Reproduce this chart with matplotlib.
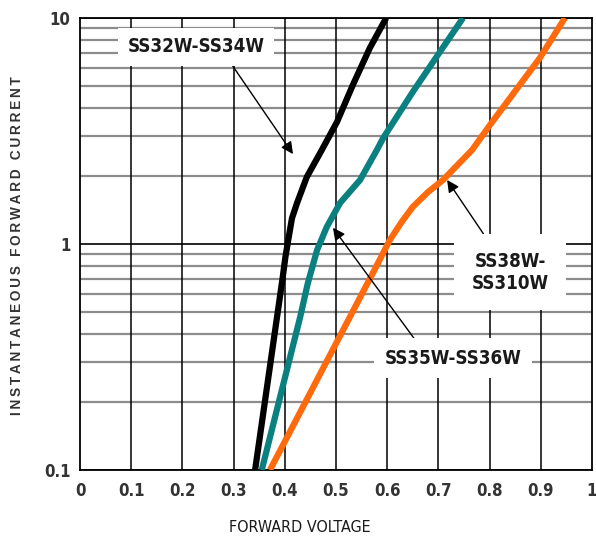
import numpy as np
import matplotlib.pyplot as plt
from matplotlib.ticker import FixedLocator, NullFormatter

plt.rcParams['font.family'] = ['DejaVu Sans']
plt.rcParams['font.stretch'] = 'condensed'

# forward voltage (V) vs instantaneous forward current (A)
v_ss32 = [0.342, 0.396, 0.401, 0.407, 0.414, 0.424, 0.443, 0.470, 0.502, 0.533, 0.566, 0.598]
i_ss32 = [0.1, 0.714, 0.87, 1.05, 1.30, 1.52, 1.98, 2.55, 3.47, 5.06, 7.36, 10.0]

v_ss35 = [0.355, 0.430, 0.445, 0.463, 0.482, 0.508, 0.547, 0.580, 0.592, 0.650, 0.703, 0.748]
i_ss35 = [0.1, 0.475, 0.671, 0.940, 1.19, 1.52, 1.92, 2.61, 2.94, 4.71, 7.08, 10.0]

v_ss38 = [0.371, 0.572, 0.605, 0.628, 0.650, 0.680, 0.709, 0.766, 0.801, 0.898, 0.947]
i_ss38 = [0.1, 0.744, 1.04, 1.25, 1.46, 1.70, 1.92, 2.61, 3.37, 6.65, 10.0]

x_ticks = [0, 0.1, 0.2, 0.3, 0.4, 0.5, 0.6, 0.7, 0.8, 0.9, 1]
x_labels = ['0', '0.1', '0.2', '0.3', '0.4', '0.5', '0.6', '0.7', '0.8', '0.9', '1']
y_ticks = [0.1, 1, 10]
y_labels = ['0.1', '1', '10']

fig = plt.figure(figsize=(5.96, 5.46), dpi=100)
ax = fig.add_axes([80/596, 1-470/546, 512/596, 452/546])
ax.set_yscale('log')
ax.set_xlim(0, 1)
ax.set_ylim(0.1, 10)

# grid: black verticals + decades, grey minor horizontals
minors = [m*d for d in (0.1, 1) for m in range(2, 10)]
for y in minors:
    ax.axhline(y, color='#8c8c8c', lw=1.6, zorder=1)
for y in y_ticks:
    ax.axhline(y, color='black', lw=1.2, zorder=1)
for x in x_ticks[1:-1]:
    ax.axvline(x, color='black', lw=1.1, zorder=1)

for v, i, c in [(v_ss32, i_ss32, 'black'), (v_ss35, i_ss35, '#0a8080'),
                (v_ss38, i_ss38, '#ff6a0d')]:
    ax.plot(v, i, color=c, lw=4.5, zorder=3, solid_capstyle='butt',
            solid_joinstyle='round')

ax.xaxis.set_major_locator(FixedLocator(x_ticks))
ax.set_xticklabels(x_labels)
ax.yaxis.set_major_locator(FixedLocator(y_ticks))
ax.yaxis.set_minor_locator(FixedLocator(minors))
ax.yaxis.set_minor_formatter(NullFormatter())
ax.set_yticklabels(y_labels)
ax.tick_params(which='both', length=0)
ax.tick_params(axis='x', pad=9, labelsize=12, labelcolor='#333333')
ax.tick_params(axis='y', pad=7, labelsize=12, labelcolor='#333333')
for lab in ax.get_xticklabels() + ax.get_yticklabels():
    lab.set_fontweight('bold')
for sp in ax.spines.values():
    sp.set_linewidth(1.3)

arrow = dict(arrowstyle='-|>', color='black', lw=1.0, mutation_scale=18, shrinkA=0, shrinkB=0)
ax.annotate('SS32W-SS34W', xy=(0.416, 2.50), xytext=(0.2266, 7.45),
            fontsize=13.5, fontweight='bold', ha='center', va='center', color='#1a1a1a',
            bbox=dict(boxstyle='square,pad=0.5', fc='white', ec='none'),
            arrowprops=dict(arrow, relpos=(0.72, 0.0)), zorder=4)
ax.annotate('SS35W-SS36W', xy=(0.494, 1.18), xytext=(0.7285, 0.313),
            fontsize=13.5, fontweight='bold', ha='center', va='center', color='#1a1a1a',
            bbox=dict(boxstyle='square,pad=0.55', fc='white', ec='none'),
            arrowprops=dict(arrow, relpos=(0.27, 1.0)), zorder=4)
ax.annotate('SS38W-\nSS310W', xy=(0.717, 1.92), xytext=(0.84, 0.751),
            fontsize=13.5, fontweight='bold', ha='center', va='center', color='#1a1a1a',
            linespacing=1.2,
            bbox=dict(boxstyle='square,pad=0.95', fc='white', ec='none'),
            arrowprops=dict(arrow, relpos=(0.31, 1.0)), zorder=4)

fig.text(300/596, 1-528/546, 'FORWARD VOLTAGE', fontsize=11.5, ha='center', va='center',
         color='#1a1a1a')
ylab = '\u2009'.join('INSTANTANEOUS FORWARD CURRENT')
fig.text(17/596, 1-246/546, ylab, rotation=90, fontsize=9.8, fontweight='bold',
         ha='center', va='center', color='#333333', stretch='normal',
         family=['Liberation Sans', 'DejaVu Sans'])

fig.savefig('out.png', dpi=100)
